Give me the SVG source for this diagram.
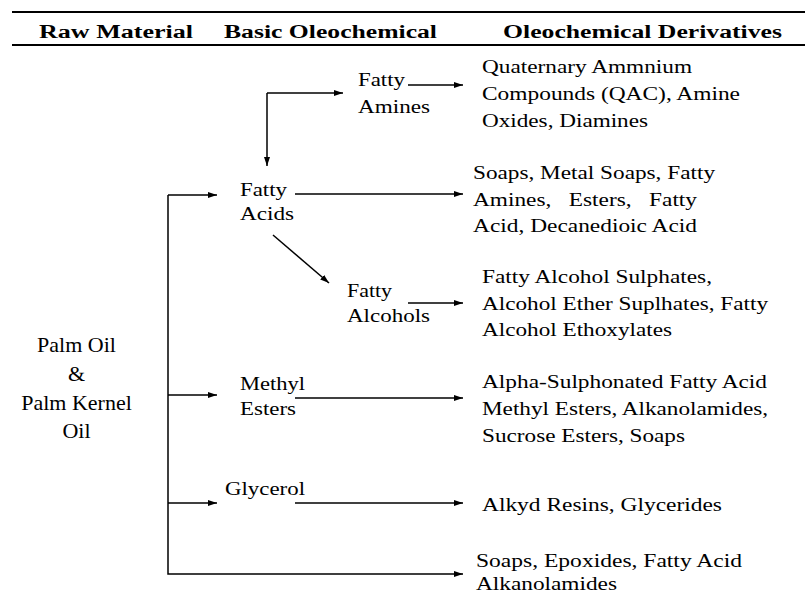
<svg xmlns="http://www.w3.org/2000/svg" width="805" height="593" viewBox="0 0 805 593">
<defs>
<marker id="ah" markerWidth="9" markerHeight="6" refX="9" refY="3" orient="auto" markerUnits="userSpaceOnUse">
<path d="M0,0 L9,3 L0,6 z" fill="#000"/>
</marker>
</defs>
<style>
.hd{font-family:"Liberation Serif","DejaVu Serif",serif;font-weight:bold;font-size:18px;fill:#000}
.t{font-family:"Liberation Serif","DejaVu Serif",serif;font-size:18px;fill:#000}
.raw{font-family:"Liberation Serif","Times New Roman",serif;font-size:22px;fill:#000;text-anchor:middle}
.c{fill:none;stroke:#000;stroke-width:1.5}
.a{marker-end:url(#ah)}
.rule{stroke:#000;stroke-width:2}
</style>
<rect width="805" height="593" fill="#fff"/>
<g id="header">
<line class="rule" x1="12" y1="12" x2="805" y2="12"/>
<line class="rule" x1="12" y1="45" x2="805" y2="45"/>
<text class="hd" x="39" y="38" textLength="154" lengthAdjust="spacingAndGlyphs">Raw Material</text>
<text class="hd" x="224" y="38" textLength="213" lengthAdjust="spacingAndGlyphs">Basic Oleochemical</text>
<text class="hd" x="503" y="38" textLength="279" lengthAdjust="spacingAndGlyphs">Oleochemical Derivatives</text>
</g>
<g id="connectors">
<path class="c a" d="M267,93 L343,93"/>
<path class="c a" d="M267,93 L267,166"/>
<path class="c a" d="M408,85 L463,85"/>
<path class="c a" d="M295,194 L463,194"/>
<path class="c a" d="M273,235 L329,283"/>
<path class="c a" d="M408,303 L463,303"/>
<path class="c a" d="M295,398 L463,398"/>
<path class="c a" d="M295,503 L463,503"/>
<path class="c a" d="M168,195 L168,574 L463,574"/>
<path class="c a" d="M168,195 L217,195"/>
<path class="c a" d="M168,395 L217,395"/>
<path class="c a" d="M168,503 L217,503"/>
</g>
<g id="raw-material">
<text class="raw" x="76.5" y="352">Palm Oil</text>
<text class="raw" x="76.5" y="381">&amp;</text>
<text class="raw" x="76.5" y="410">Palm Kernel</text>
<text class="raw" x="76.5" y="438">Oil</text>
</g>
<g id="fatty-amines">
<text class="t" x="358" y="86" textLength="47" lengthAdjust="spacingAndGlyphs">Fatty</text>
<text class="t" x="358" y="113" textLength="72" lengthAdjust="spacingAndGlyphs">Amines</text>
</g>
<g id="fatty-acids">
<text class="t" x="240" y="196" textLength="47" lengthAdjust="spacingAndGlyphs">Fatty</text>
<text class="t" x="240" y="220" textLength="54" lengthAdjust="spacingAndGlyphs">Acids</text>
</g>
<g id="fatty-alcohols">
<text class="t" x="347" y="297" textLength="45" lengthAdjust="spacingAndGlyphs">Fatty</text>
<text class="t" x="347" y="322" textLength="83" lengthAdjust="spacingAndGlyphs">Alcohols</text>
</g>
<g id="methyl-esters">
<text class="t" x="240" y="390" textLength="65" lengthAdjust="spacingAndGlyphs">Methyl</text>
<text class="t" x="240" y="415" textLength="56" lengthAdjust="spacingAndGlyphs">Esters</text>
</g>
<g id="glycerol">
<text class="t" x="225" y="495" textLength="80" lengthAdjust="spacingAndGlyphs">Glycerol</text>
</g>
<g id="amine-derivatives">
<text class="t" x="482" y="73" textLength="210" lengthAdjust="spacingAndGlyphs">Quaternary Ammnium</text>
<text class="t" x="482" y="100" textLength="258" lengthAdjust="spacingAndGlyphs">Compounds (QAC), Amine</text>
<text class="t" x="482" y="127" textLength="166" lengthAdjust="spacingAndGlyphs">Oxides, Diamines</text>
</g>
<g id="acid-derivatives">
<text class="t" x="473" y="179" textLength="242" lengthAdjust="spacingAndGlyphs">Soaps, Metal Soaps, Fatty</text>
<text class="t" x="473" y="206" textLength="224" lengthAdjust="spacingAndGlyphs" xml:space="preserve">Amines,   Esters,   Fatty</text>
<text class="t" x="473" y="232" textLength="224" lengthAdjust="spacingAndGlyphs">Acid, Decanedioic Acid</text>
</g>
<g id="alcohol-derivatives">
<text class="t" x="482" y="283" textLength="230" lengthAdjust="spacingAndGlyphs">Fatty Alcohol Sulphates,</text>
<text class="t" x="482" y="310" textLength="286" lengthAdjust="spacingAndGlyphs">Alcohol Ether Suplhates, Fatty</text>
<text class="t" x="482" y="336" textLength="190" lengthAdjust="spacingAndGlyphs">Alcohol Ethoxylates</text>
</g>
<g id="ester-derivatives">
<text class="t" x="482" y="388" textLength="285" lengthAdjust="spacingAndGlyphs">Alpha-Sulphonated Fatty Acid</text>
<text class="t" x="482" y="415" textLength="286" lengthAdjust="spacingAndGlyphs">Methyl Esters, Alkanolamides,</text>
<text class="t" x="482" y="442" textLength="203" lengthAdjust="spacingAndGlyphs">Sucrose Esters, Soaps</text>
</g>
<g id="glycerol-derivatives">
<text class="t" x="482" y="511" textLength="240" lengthAdjust="spacingAndGlyphs">Alkyd Resins, Glycerides</text>
</g>
<g id="oil-derivatives">
<text class="t" x="476" y="567" textLength="266" lengthAdjust="spacingAndGlyphs">Soaps, Epoxides, Fatty Acid</text>
<text class="t" x="476" y="590" textLength="141" lengthAdjust="spacingAndGlyphs">Alkanolamides</text>
</g>
</svg>
